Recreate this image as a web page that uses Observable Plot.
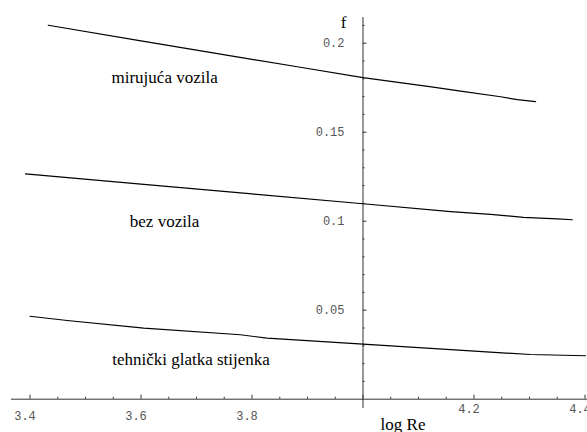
<!DOCTYPE html>
<html>
<head>
<meta charset="utf-8">
<script src="https://cdn.jsdelivr.net/npm/d3@7"></script>
<script src="https://cdn.jsdelivr.net/npm/@observablehq/plot@0.6"></script>
<style>
  html, body { margin: 0; padding: 0; background: #fff; }
</style>
</head>
<body>
<div id="chart"></div>
<script>
// ---- data ----
const logReTop = [3.433, 3.6, 3.8, 3.887, 4.0, 4.07, 4.12, 4.176, 4.248, 4.278, 4.311];
const fTop     = [0.2101, 0.2013, 0.1909, 0.1865, 0.1807, 0.1777, 0.1756, 0.1731, 0.1699, 0.1683, 0.1672];

const logReMid = [3.392, 3.6, 3.8, 4.0, 4.158, 4.230, 4.289, 4.35, 4.377];
const fMid     = [0.1266, 0.1208, 0.1153, 0.1098, 0.1054, 0.1038, 0.1022, 0.1013, 0.1008];

const logReBot = [3.4, 3.467, 3.605, 3.779, 3.827, 4.0, 4.158, 4.302, 4.401];
const fBot     = [0.0466, 0.0442, 0.0399, 0.0362, 0.0343, 0.0309, 0.0278, 0.0251, 0.0244];

const seriesNames = ["mirujuća vozila", "bez vozila", "tehnički glatka stijenka"];

const xMajorTicks = [3.4, 3.6, 3.8, 4.0, 4.2, 4.4];
const xMajorLabels = ["3.4", "3.6", "3.8", "", "4.2", "4.4"];
const yMajorTicks = [0.05, 0.1, 0.15, 0.2];
const yMajorLabels = ["0.05", "0.1", "0.15", "0.2"];

// ---- layout ----
const W = 587, H = 432;
const xRange = [29.5, 584.5], yRange = [398.7, 42.7];
const xDomain = [3.4, 4.4], yDomain = [0, 0.2];
const pxX = (xRange[1] - xRange[0]) / (xDomain[1] - xDomain[0]);
const pxY = (yRange[0] - yRange[1]) / (yDomain[1] - yDomain[0]);
const ox = 4.0; // axes origin
const xData = px => xDomain[0] + (px - xRange[0]) / pxX;
const yData = py => (yRange[0] - py) / pxY;

const xMinor = d3.range(0, 21).map(i => +(3.4 + i * 0.05).toFixed(2)).filter(v => !xMajorTicks.some(m => Math.abs(m - v) < 1e-9));
const yMinor = d3.range(1, 22).map(i => +(i * 0.01).toFixed(2)).filter(v => !yMajorTicks.some(m => Math.abs(m - v) < 1e-9));

const toRows = (xs, ys, name) => xs.map((x, i) => ({x, y: ys[i], name}));
const rows = [
  ...toRows(logReTop, fTop, seriesNames[0]),
  ...toRows(logReMid, fMid, seriesNames[1]),
  ...toRows(logReBot, fBot, seriesNames[2])
];

const serif = "'Liberation Serif', 'Times New Roman', serif";
const mono = "'Liberation Mono', 'Courier New', monospace";
const axisColor = "#333";

const xLabelRows = xMajorTicks.map((t, i) => ({t, s: xMajorLabels[i]})).filter(d => d.s);

const plot = Plot.plot({
  width: W, height: H,
  marginLeft: 0, marginRight: 0, marginTop: 0, marginBottom: 0,
  x: {domain: xDomain, range: xRange, axis: null},
  y: {domain: yDomain, range: yRange, axis: null},
  style: {background: "#fff", overflow: "visible"},
  marks: [
    // axes
    Plot.ruleY([0], {x1: xData(11), x2: xData(587), stroke: axisColor, strokeWidth: 1}),
    Plot.ruleX([ox], {y1: yData(408), y2: yData(17), stroke: axisColor, strokeWidth: 1}),
    // x ticks (upward)
    Plot.ruleX(xMajorTicks, {x: d => d, y1: 0, y2: 4 / pxY, stroke: axisColor}),
    Plot.ruleX(xMinor, {x: d => d, y1: 0, y2: 2 / pxY, stroke: axisColor}),
    // y ticks (rightward)
    Plot.ruleY(yMajorTicks, {y: d => d, x1: ox, x2: ox + 4 / pxX, stroke: axisColor}),
    Plot.ruleY(yMinor, {y: d => d, x1: ox, x2: ox + 2 / pxX, stroke: axisColor}),
    // x tick labels
    Plot.text(xLabelRows, {
      x: "t", y: d => d.t < ox ? yData(416) : yData(408.5), text: "s",
      dx: -5, lineAnchor: "middle", textAnchor: "middle",
      fontFamily: mono, fontSize: 12, fill: "#555"
    }),
    // y tick labels
    Plot.text(yMajorTicks, {
      x: ox, y: d => d, text: (d, i) => yMajorLabels[i],
      dx: -18.5, lineAnchor: "middle", textAnchor: "end",
      fontFamily: mono, fontSize: 12, fill: "#555"
    }),
    // curves
    Plot.line(rows, {x: "x", y: "y", z: "name", stroke: "#000", strokeWidth: 1.2, curve: "linear"}),
    // axis titles
    Plot.text(["f"], {x: xData(346), y: yData(27), text: d => d, textAnchor: "end", lineAnchor: "bottom", fontFamily: serif, fontSize: 17, fill: "#000"}),
    Plot.text(["log Re"], {x: xData(402.5), y: yData(429), text: d => d, textAnchor: "middle", lineAnchor: "bottom", fontFamily: serif, fontSize: 17, fill: "#000"}),
    // curve labels
    Plot.text([
      {s: seriesNames[0], x: xData(111), y: yData(82)},
      {s: seriesNames[1], x: xData(129.3), y: yData(226)},
      {s: seriesNames[2], x: xData(111.7), y: yData(364)}
    ], {x: "x", y: "y", text: "s", textAnchor: "start", lineAnchor: "bottom", fontFamily: serif, fontSize: 17, fill: "#000"})
  ]
});
document.getElementById("chart").appendChild(plot);
</script>
</body>
</html>
